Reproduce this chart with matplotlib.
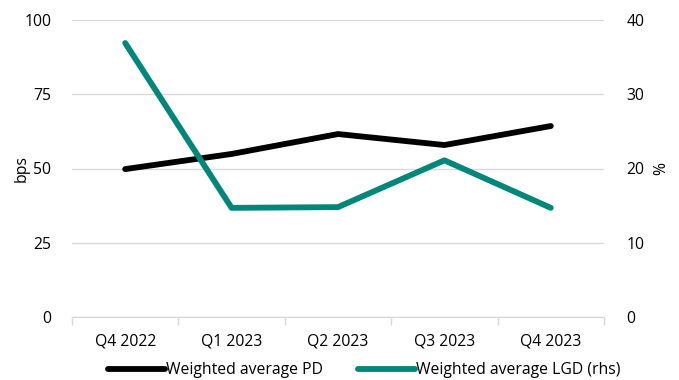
import numpy as np
import matplotlib.pyplot as plt

plt.rcParams['font.family'] = ['Open Sans', 'DejaVu Sans']

quarters = ["Q4 2022", "Q1 2023", "Q2 2023", "Q3 2023", "Q4 2023"]
pd_bps = [49.8, 54.9, 61.6, 57.9, 64.3]
lgd_pct = [36.9, 14.7, 14.8, 21.1, 14.7]

black = "#000000"
teal = "#00877A"
grid = "#D9D9D9"
fs = 11.3

fig = plt.figure(figsize=(6.79, 3.8), dpi=100)
ax = fig.add_axes([72/679, 1 - 317/380, (604 - 72)/679, (317 - 20)/380])
ax2 = ax.twinx()

x = np.arange(len(quarters))
l1, = ax.plot(x, pd_bps, color=black, lw=4.2, solid_capstyle='round', zorder=3)
l2, = ax2.plot(x, lgd_pct, color=teal, lw=4.2, solid_capstyle='round', zorder=3)

ax.set_xlim(-0.5, len(quarters) - 0.5)
ax.set_ylim(0, 100)
ax.set_yticks([0, 25, 50, 75, 100])
ax2.set_ylim(0, 40)
ax2.set_yticks([0, 10, 20, 30, 40])

ax.yaxis.grid(True, color=grid, lw=1)
ax.set_axisbelow(True)

ax.set_xticks(x)
ax.set_xticklabels(quarters)
ax.set_xticks(np.arange(-0.5, len(quarters)), minor=True)
ax.tick_params(axis='x', which='major', length=0, pad=12, labelsize=fs)
ax.tick_params(axis='x', which='minor', length=6, color=grid, width=1)
ax.tick_params(axis='y', length=0, pad=15, labelsize=fs)
ax2.tick_params(axis='y', length=0, pad=16, labelsize=fs)

for a in (ax, ax2):
    for s in ('top', 'left', 'right'):
        a.spines[s].set_visible(False)
    a.spines['bottom'].set_color(grid)

ax.set_ylabel("bps", fontsize=fs, labelpad=-4)
ax2.set_ylabel("%", fontsize=fs, labelpad=6.5)

# legend sits a little right of the plot centre
fig.legend([l1, l2], ["Weighted average PD", "Weighted average LGD (rhs)"],
           loc='center', bbox_to_anchor=(364.5/679, 1 - 370/380), ncol=2, frameon=False,
           fontsize=fs, handlelength=3.6, handletextpad=0.1, columnspacing=2.2)

fig.savefig("out.png", dpi=100)
